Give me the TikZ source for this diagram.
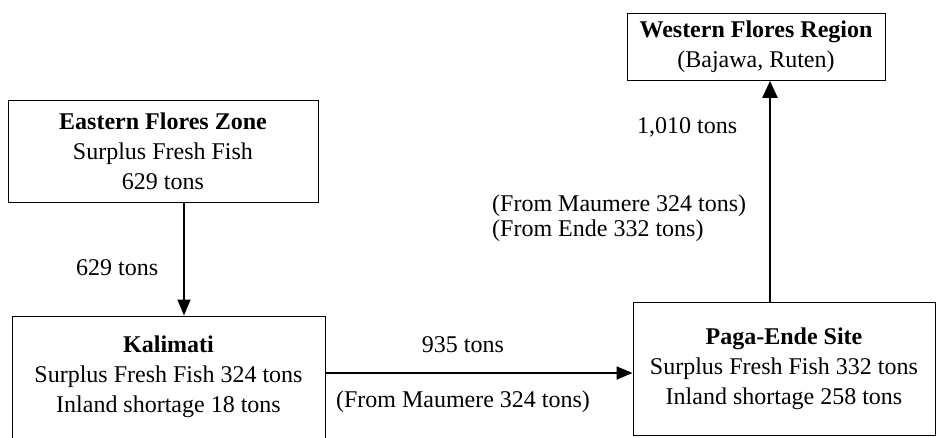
\documentclass[tikz,border=0pt]{standalone}
\usepackage{fontspec}
\setmainfont{Liberation Serif}
\usetikzlibrary{arrows.meta}
\begin{document}
\begin{tikzpicture}[x=1pt,y=-1pt,
  box/.style={draw,line width=0.9pt,align=center,inner sep=0pt,
    font=\fontsize{24}{30}\selectfont},
  lbl/.style={font=\fontsize{24}{30}\selectfont,inner sep=0pt},
  arr/.style={line width=1.6pt,-{Triangle[length=16pt,width=13pt]}},
  arrb/.style={line width=2.6pt,-{Triangle[length=17pt,width=15pt]}}]
\useasboundingbox (0,0) rectangle (938,438);
\node[box,minimum width=310pt,minimum height=102pt] (east) at (163,151)
  {\textbf{Eastern Flores Zone}\\Surplus Fresh Fish\\629 tons};
\node[box,minimum width=313pt,minimum height=122pt] (kal) at (168.5,377)
  {\textbf{Kalimati}\\Surplus Fresh Fish 324 tons\\Inland shortage 18 tons};
\node[box,minimum width=302pt,minimum height=133pt] (pag) at (784,368.5)
  {\textbf{Paga-Ende Site}\\Surplus Fresh Fish 332 tons\\Inland shortage 258 tons};
\node[box,minimum width=258pt,minimum height=67pt] (west) at (756,47)
  {\textbf{Western Flores Region}\\(Bajawa, Ruten)};
\draw[arr] ([xshift=21pt]east.south) -- ([xshift=21pt]east.south |- kal.north);
\draw[arr] ([yshift=4pt]kal.east) -- ([yshift=4pt]kal.east -| pag.west);
\draw[arrb] ([xshift=-14pt]pag.north) -- ([xshift=-14pt]pag.north |- west.south);
\node[lbl,anchor=west] (l629) at (76,268) {629 tons};
\node[lbl,anchor=west] (l1010) at (637,127) {1,010 tons};
\node[lbl,anchor=west] (lm1) at (492,206) {(From Maumere 324 tons)};
\node[lbl,anchor=west] (le) at (492,231) {(From Ende 332 tons)};
\node[lbl] (l935) at (463,345) {935 tons};
\node[lbl] (lm2) at (463,402) {(From Maumere 324 tons)};
\end{tikzpicture}
\end{document}
